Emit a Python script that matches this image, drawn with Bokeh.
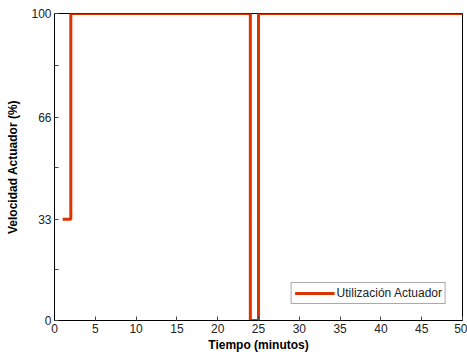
from bokeh.plotting import figure
from bokeh.models import FixedTicker, Range1d, Legend, LegendItem
from bokeh.embed import file_html
from bokeh.resources import INLINE

# Data (step signal: actuator usage in %)
tiempo = [1, 2, 2, 24, 24, 25, 25, 50]
velocidad = [33, 33, 100, 100, 0, 0, 100, 100]
x_ticks = [0, 5, 10, 15, 20, 25, 30, 35, 40, 45, 50]
y_ticks = [0, 33, 66, 100]
y_minor = [16.5, 50, 83]

RED = "#DD3300"
FONT = "Liberation Sans"

p = figure(width=467, height=358, output_backend="svg", toolbar_location=None,
           x_range=Range1d(0, 50), y_range=Range1d(0, 100),
           min_border_left=54, min_border_right=5, min_border_top=13, min_border_bottom=38)
p.xgrid.visible = False
p.ygrid.visible = False
p.outline_line_color = "black"
p.outline_line_width = 1
p.background_fill_color = "white"
p.border_fill_color = "white"

r = p.line(tiempo, velocidad, line_color=RED, line_width=3)

xax = p.below[0]
yax = p.left[0]
for ax in (xax, yax):
    ax.major_tick_in = 4
    ax.major_tick_out = 0
    ax.minor_tick_in = 4
    ax.minor_tick_out = 0
    ax.axis_line_color = "black"
    ax.major_tick_line_color = "#444444"
    ax.minor_tick_line_color = "#444444"
    ax.major_label_text_font = FONT
    ax.major_label_text_font_size = "12px"
    ax.major_label_text_color = "#222222"
    ax.axis_label_text_font = FONT
    ax.axis_label_text_font_size = "12px"
    ax.axis_label_text_font_style = "bold"
    ax.axis_label_text_color = "black"
    ax.major_label_standoff = 3

xax.ticker = FixedTicker(ticks=x_ticks)
yax.ticker = FixedTicker(ticks=y_ticks, minor_ticks=y_minor)
xax.axis_label = "Tiempo (minutos)"
yax.axis_label = "Velocidad Actuador (%)"
xax.axis_label_standoff = 2
yax.axis_label_standoff = 8

legend = Legend(items=[LegendItem(label="Utilización Actuador", renderers=[r])],
                location="bottom_right")
legend.label_text_font = FONT
legend.label_text_font_size = "12px"
legend.label_text_color = "#222222"
legend.border_line_color = "#555555"
legend.border_line_width = 1
legend.glyph_width = 40
legend.glyph_height = 12
legend.padding = 3
legend.margin = 16
legend.spacing = 0
legend.label_standoff = 2
legend.background_fill_alpha = 1
p.add_layout(legend)

with open("out.html", "w") as f:
    f.write(file_html(p, INLINE))
